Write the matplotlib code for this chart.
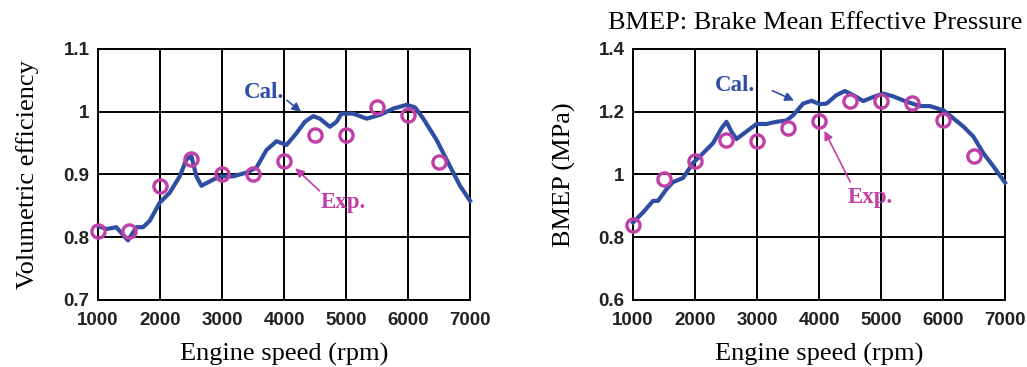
import matplotlib.pyplot as plt

# volumetric efficiency (left)
ve_cal_rpm = [1000, 1135, 1296, 1484, 1619, 1726, 1834, 1995, 2157, 2318, 2426, 2507,
              2587, 2668, 2803, 2964, 3179, 3394, 3556, 3717, 3879, 4040, 4202, 4336,
              4471, 4578, 4740, 4847, 4928, 5116, 5332, 5547, 5762, 5977, 6112, 6246,
              6461, 6677, 6838, 7000]
ve_cal = [0.818, 0.813, 0.816, 0.795, 0.816, 0.816, 0.826, 0.855, 0.871, 0.897, 0.924, 0.929,
          0.897, 0.882, 0.889, 0.897, 0.897, 0.903, 0.911, 0.939, 0.953, 0.947, 0.966, 0.984,
          0.993, 0.989, 0.976, 0.984, 0.997, 0.997, 0.989, 0.995, 1.005, 1.011, 1.007, 0.989,
          0.955, 0.913, 0.882, 0.858]
exp_rpm = [1000, 1500, 2000, 2500, 3000, 3500, 4000, 4500, 5000, 5500, 6000, 6500]
ve_exp = [0.81, 0.81, 0.882, 0.925, 0.90, 0.90, 0.922, 0.963, 0.963, 1.008, 0.995, 0.92]

# BMEP (right)
bm_cal_rpm = [1000, 1161, 1323, 1404, 1538, 1646, 1807, 1969, 2130, 2291, 2426, 2507,
              2587, 2668, 2830, 2991, 3152, 3314, 3475, 3583, 3744, 3879, 4013, 4121,
              4282, 4417, 4551, 4713, 4874, 5036, 5197, 5412, 5627, 5789, 6004, 6166,
              6327, 6489, 6650, 6812, 7000]
bm_cal = [0.847, 0.879, 0.916, 0.916, 0.953, 0.976, 0.989, 1.037, 1.068, 1.100, 1.147, 1.168,
          1.137, 1.113, 1.137, 1.161, 1.161, 1.168, 1.172, 1.189, 1.226, 1.235, 1.224, 1.226,
          1.253, 1.266, 1.253, 1.234, 1.247, 1.258, 1.249, 1.232, 1.218, 1.218, 1.205, 1.179,
          1.153, 1.121, 1.068, 1.026, 0.974]
bm_exp = [0.84, 0.985, 1.043, 1.11, 1.108, 1.148, 1.172, 1.235, 1.235, 1.228, 1.175, 1.058]

blue = '#2f4ea3'
pink = '#c040a8'
serif = 'Liberation Serif'
sans = 'Liberation Sans'

fig = plt.figure(figsize=(10.27, 3.67), dpi=100)
ax1 = fig.add_axes([0.0954, 0.1826, 0.3623, 0.6839])
ax2 = fig.add_axes([0.6164, 0.1826, 0.3622, 0.6839])


def style(ax, ylim, yticks, ylabels):
    ax.set_xlim(1000, 7000)
    ax.set_ylim(*ylim)
    ax.set_xticks(range(1000, 7001, 1000))
    ax.set_yticks(yticks)
    ax.set_yticklabels(ylabels)
    ax.grid(True, color='black', linewidth=1.4)
    ax.tick_params(length=0)
    ax.tick_params(axis='x', pad=9)
    ax.tick_params(axis='y', pad=6)
    for lab in ax.get_xticklabels() + ax.get_yticklabels():
        lab.set_fontfamily(sans)
        lab.set_fontsize(13.5)
        lab.set_fontweight('bold')
        lab.set_color('#222222')
    for s in ax.spines.values():
        s.set_linewidth(1.4)
    ax.set_xlabel('Engine speed (rpm)', fontfamily=serif, fontsize=19, labelpad=10)


style(ax1, (0.7, 1.1), [0.7, 0.8, 0.9, 1.0, 1.1], ['0.7', '0.8', '0.9', '1', '1.1'])
ax1.plot(ve_cal_rpm, ve_cal, color=blue, lw=3, clip_on=False, zorder=3)
ax1.plot(exp_rpm, ve_exp, 'o', mfc='none', mec=pink, ms=9.5, mew=2.4, zorder=4, clip_on=False)
ax1.set_ylabel('Volumetric efficiency', fontfamily=serif, fontsize=19, labelpad=18)
ax1.text(3680, 1.03, 'Cal.', color=blue, fontfamily=serif, fontsize=16.5, fontweight='bold',
         ha='center', va='center')
ax1.annotate('', xy=(4309, 0.997), xytext=(4013, 1.021),
             arrowprops=dict(arrowstyle='-|>', color=blue, lw=1.2, mutation_scale=13))
ax1.text(4955, 0.855, 'Exp.', color=pink, fontfamily=serif, fontsize=16.5, fontweight='bold',
         ha='center', va='center')
ax1.annotate('', xy=(4148, 0.913), xytext=(4605, 0.871),
             arrowprops=dict(arrowstyle='-|>', color=pink, lw=1.2, mutation_scale=13))

style(ax2, (0.6, 1.4), [0.6, 0.8, 1.0, 1.2, 1.4], ['0.6', '0.8', '1', '1.2', '1.4'])
ax2.plot(bm_cal_rpm, bm_cal, color=blue, lw=3, clip_on=False, zorder=3)
ax2.plot(exp_rpm, bm_exp, 'o', mfc='none', mec=pink, ms=9.5, mew=2.4, zorder=4, clip_on=False)
ax2.set_ylabel('BMEP (MPa)', fontfamily=serif, fontsize=19, labelpad=16)
ax2.text(2641, 1.284, 'Cal.', color=blue, fontfamily=serif, fontsize=16.5, fontweight='bold',
         ha='center', va='center')
ax2.annotate('', xy=(3637, 1.232), xytext=(3206, 1.271),
             arrowprops=dict(arrowstyle='-|>', color=blue, lw=1.2, mutation_scale=13))
ax2.text(4820, 0.926, 'Exp.', color=pink, fontfamily=serif, fontsize=16.5, fontweight='bold',
         ha='center', va='center')
ax2.annotate('', xy=(4067, 1.147), xytext=(4525, 0.968),
             arrowprops=dict(arrowstyle='-|>', color=pink, lw=1.2, mutation_scale=13))

fig.text(1022 / 1027, 1 - 23 / 367, 'BMEP: Brake Mean Effective Pressure', fontfamily=serif,
         fontsize=19, ha='right', va='center')

fig.savefig('out.png', dpi=100)
